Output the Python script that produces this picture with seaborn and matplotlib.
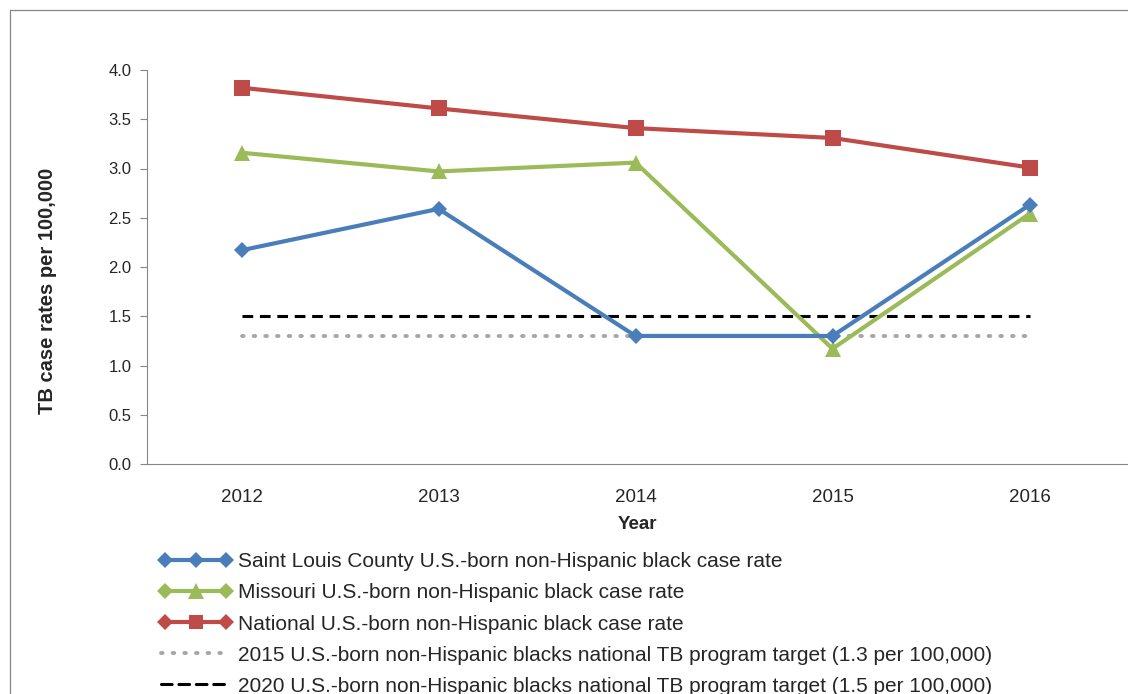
import pandas as pd
import matplotlib.pyplot as plt
import seaborn as sns
from matplotlib.lines import Line2D
from matplotlib.patches import Rectangle
from matplotlib.legend_handler import HandlerBase

# datos
years = ['2012', '2013', '2014', '2015', '2016']
st_louis = [2.17, 2.59, 1.30, 1.30, 2.63]
missouri = [3.16, 2.97, 3.06, 1.17, 2.54]
national = [3.82, 3.61, 3.41, 3.31, 3.01]
target_2015 = [1.3, 1.3, 1.3, 1.3, 1.3]
target_2020 = [1.5, 1.5, 1.5, 1.5, 1.5]

labels = [
    'Saint Louis County U.S.-born non-Hispanic black case rate',
    'Missouri U.S.-born non-Hispanic black case rate',
    'National U.S.-born non-Hispanic black case rate',
    '2015 U.S.-born non-Hispanic blacks national TB program target (1.3 per 100,000)',
    '2020 U.S.-born non-Hispanic blacks national TB program target (1.5 per 100,000)',
]

blue = '#4A7EBB'
green = '#9BBB59'
red = '#BE4B48'
dotted = (0, (0.4, 2.6))
dashed = (0, (3.5, 2.2))

sns.set_style('white')
plt.rcParams['font.family'] = ['Liberation Sans', 'DejaVu Sans']

df = pd.DataFrame({'Year': years, 'x': range(len(years)),
                   'stl': st_louis, 'mo': missouri, 'nat': national,
                   't15': target_2015, 't20': target_2020})

fig = plt.figure(figsize=(11.28, 6.94), dpi=100)
ax = fig.add_axes([147 / 1128, 1 - 464 / 694, 1 - 147 / 1128, (464 - 70) / 694])

sns.lineplot(data=df, x='x', y='t15', ax=ax, color='#A6A6A6', lw=2.8,
             linestyle=dotted, dash_capstyle='round')
sns.lineplot(data=df, x='x', y='t20', ax=ax, color='black', lw=2.2,
             linestyle=dashed)
sns.lineplot(data=df, x='x', y='nat', ax=ax, color=red, lw=3, marker='s',
             markersize=11, markeredgewidth=0)
sns.lineplot(data=df, x='x', y='mo', ax=ax, color=green, lw=3, marker='^',
             markersize=12, markeredgewidth=0)
sns.lineplot(data=df, x='x', y='stl', ax=ax, color=blue, lw=3, marker='D',
             markersize=8.5, markeredgewidth=0)

ax.set_xlim(-0.48, 4.5)
ax.set_ylim(0, 4)
ax.set_yticks([0, 0.5, 1, 1.5, 2, 2.5, 3, 3.5, 4])
ax.set_yticklabels([f'{v:.1f}' for v in ax.get_yticks()], fontsize=12)
ax.set_xticks(range(len(years)))
ax.set_xticklabels(years, fontsize=13.5)
ax.tick_params(axis='x', length=0, pad=18)
ax.tick_params(axis='y', length=5, width=0.8, color='#868686', left=True, pad=6)
ax.set_xlabel('Year', fontsize=13.5, fontweight='bold', labelpad=7)
ax.set_ylabel('TB case rates per 100,000', fontsize=14.5, fontweight='bold')
ax.yaxis.set_label_coords(-0.092, 0.44)
for s in ['top', 'right']:
    ax.spines[s].set_visible(False)
for s in ['left', 'bottom']:
    ax.spines[s].set_color('#868686')
    ax.spines[s].set_linewidth(0.8)

# marco exterior del grafico
fig.patches.append(Rectangle((10 / 1128, -0.1), 1.2, 1 - 10 / 694 + 0.1,
                             transform=fig.transFigure, fill=False,
                             edgecolor='#868686', lw=0.9))


# simbolo de leyenda estilo Excel: rombo - marcador - rombo
class ExcelHandler(HandlerBase):
    def create_artists(self, legend, orig_handle, xdescent, ydescent,
                       width, height, fontsize, trans):
        color, marker, ms = orig_handle
        y = height / 2 - ydescent
        x0, x1 = -xdescent + 5, width - xdescent - 5
        if marker is None:
            # lineas de meta, sin marcadores
            ls, lw = (dotted, 2.8) if color == '#A6A6A6' else (dashed, 2.2)
            return [Line2D([x0 - 3, x1], [y, y], color=color, lw=lw, ls=ls,
                           dash_capstyle='round', transform=trans)]
        line = Line2D([x0, x1], [y, y], color=color, lw=3, transform=trans)
        ends = Line2D([x0, x1], [y, y], ls='none', marker='D', markersize=8,
                      color=color, markeredgewidth=0, transform=trans)
        mid = Line2D([(x0 + x1) / 2], [y], ls='none', marker=marker, markersize=ms,
                     color=color, markeredgewidth=0, transform=trans)
        return [line, ends, mid]


handles = [
    (blue, 'D', 8),
    (green, '^', 11),
    (red, 's', 10),
    ('#A6A6A6', None, 0),
    ('black', None, 0),
]
fig.legend(handles, labels, loc='upper left', bbox_to_anchor=(150 / 1128, 1 - 544 / 694),
           frameon=False, fontsize=15, handlelength=3.6,
           handletextpad=0.2, labelspacing=0.58, borderaxespad=0,
           handler_map={tuple: ExcelHandler()})

plt.savefig('out.png', dpi=100)
